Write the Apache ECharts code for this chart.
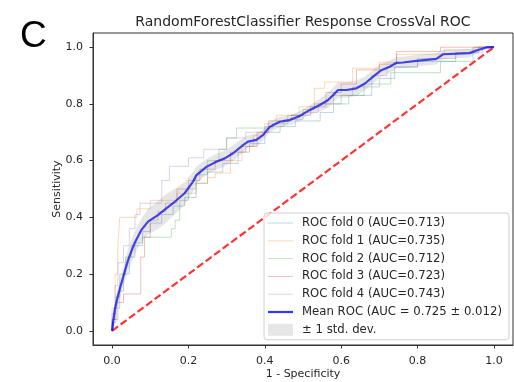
<!DOCTYPE html>
<html><head><meta charset="utf-8">
<script src="https://cdn.jsdelivr.net/npm/echarts@6/dist/echarts.min.js"></script>
<style>html,body{margin:0;padding:0;background:#fff}#c{width:514px;height:382px}</style>
</head><body><div id="c"></div>
<script>
const tickValues = [0, 0.2, 0.4, 0.6, 0.8, 1.0];
const foldNames = ['ROC fold 0 (AUC=0.713)','ROC fold 1 (AUC=0.735)','ROC fold 2 (AUC=0.712)','ROC fold 3 (AUC=0.723)','ROC fold 4 (AUC=0.743)'];
const foldColors = ['rgba(31,119,180,0.3)','rgba(255,127,14,0.3)','rgba(44,160,44,0.3)','rgba(214,39,40,0.3)','rgba(148,103,189,0.3)'];
const fold0 = [[0,0],[0,.03],[.01,.03],[.01,.08],[.02,.08],[.02,.14],[.03,.14],[.03,.2],[.045,.2],[.045,.26],[.06,.26],[.06,.31],[.08,.31],[.08,.35],[.1,.35],[.1,.38],[.13,.38],[.13,.41],[.16,.41],[.16,.44],[.19,.44],[.19,.47],[.22,.47],[.22,.52],[.25,.52],[.25,.56],[.29,.56],[.29,.59],[.33,.59],[.33,.63],[.36,.63],[.36,.66],[.4,.66],[.4,.7],[.44,.7],[.44,.72],[.48,.72],[.48,.74],[.545,.74],[.545,.77],[.58,.77],[.58,.8],[.62,.8],[.62,.83],[.68,.83],[.68,.86],[.7,.86],[.7,.89],[.74,.89],[.74,.93],[.8,.93],[.8,.95],[.9,.95],[.9,.98],[.96,.98],[.96,1],[1,1]];
const fold1 = [[0,0],[0,.08],[.008,.08],[.008,.2],[.015,.2],[.015,.3],[.02,.3],[.02,.4],[.065,.4],[.065,.43],[.1,.43],[.1,.46],[.17,.46],[.17,.485],[.22,.485],[.22,.52],[.25,.52],[.25,.54],[.27,.54],[.27,.556],[.31,.556],[.31,.6],[.34,.6],[.34,.65],[.37,.65],[.37,.69],[.4,.69],[.4,.73],[.43,.73],[.43,.76],[.49,.76],[.49,.79],[.53,.79],[.53,.855],[.557,.855],[.557,.877],[.63,.877],[.63,.926],[.7,.926],[.7,.947],[.745,.947],[.745,.975],[.87,.975],[.87,.99],[.95,.99],[.95,1],[1,1]];
const fold2 = [[0,0],[0,.04],[.01,.04],[.01,.12],[.02,.12],[.02,.2],[.035,.2],[.035,.26],[.05,.26],[.05,.3],[.08,.3],[.08,.33],[.155,.33],[.155,.36],[.165,.36],[.165,.39],[.177,.39],[.177,.46],[.2,.46],[.2,.5],[.22,.5],[.22,.55],[.25,.55],[.25,.6],[.28,.6],[.28,.64],[.3,.64],[.3,.68],[.326,.68],[.326,.715],[.42,.715],[.42,.73],[.46,.73],[.46,.76],[.5,.76],[.5,.78],[.53,.78],[.53,.8],[.6,.8],[.6,.83],[.66,.83],[.66,.87],[.73,.87],[.73,.91],[.86,.91],[.86,.95],[.945,.95],[.945,1],[1,1]];
const fold3 = [[0,0],[0,.04],[.015,.04],[.015,.1],[.03,.1],[.03,.13],[.075,.13],[.075,.26],[.085,.26],[.085,.33],[.1,.33],[.1,.39],[.12,.39],[.12,.42],[.14,.42],[.14,.45],[.17,.45],[.17,.5],[.2,.5],[.2,.53],[.23,.53],[.23,.57],[.27,.57],[.27,.6],[.31,.6],[.31,.63],[.35,.63],[.35,.65],[.38,.65],[.38,.7],[.41,.7],[.41,.74],[.47,.74],[.47,.76],[.52,.76],[.52,.79],[.56,.79],[.56,.84],[.6,.84],[.6,.87],[.64,.87],[.64,.92],[.7,.92],[.7,.94],[.745,.94],[.745,.985],[.86,.985],[.86,1],[1,1]];
const fold4 = [[0,0],[0,.06],[.008,.06],[.008,.16],[.015,.16],[.015,.24],[.03,.24],[.03,.3],[.045,.3],[.045,.36],[.06,.36],[.06,.41],[.073,.41],[.073,.45],[.13,.45],[.13,.53],[.15,.53],[.15,.58],[.2,.58],[.2,.61],[.24,.61],[.24,.64],[.3,.64],[.3,.68],[.35,.68],[.35,.7],[.4,.7],[.4,.72],[.45,.72],[.45,.745],[.5,.745],[.5,.77],[.54,.77],[.54,.8],[.58,.8],[.58,.83],[.63,.83],[.63,.86],[.68,.86],[.68,.9],[.72,.9],[.72,.93],[.8,.93],[.8,.96],[.9,.96],[.9,.98],[.97,.98],[.97,1],[1,1]];
const meanFpr = [0,.007,.016,.029,.042,.059,.077,.094,.12,.142,.164,.19,.212,.221,.247,.273,.295,.317,.343,.356,.378,.395,.413,.439,.465,.491,.517,.544,.565,.579,.592,.614,.64,.662,.683,.705,.727,.745,.762,.797,.849,.867,.936,.958,.98,1.0];
const meanTpr = [0,.074,.127,.19,.25,.31,.356,.385,.408,.432,.455,.485,.526,.549,.578,.596,.608,.626,.655,.667,.673,.69,.719,.737,.743,.757,.778,.796,.813,.831,.849,.849,.855,.872,.895,.919,.931,.945,.946,.952,.959,.975,.979,.99,.999,1.0];
const stdTpr = [0,.02,.03,.035,.04,.04,.04,.045,.05,.05,.045,.04,.035,.03,.028,.028,.028,.028,.025,.022,.022,.02,.02,.018,.017,.017,.017,.022,.027,.027,.027,.027,.027,.025,.025,.022,.022,.02,.02,.02,.02,.017,.015,.01,.005,0];
const chance = [[0,0],[1,1]];
const meanLabel = 'Mean ROC (AUC = 0.725 \u00b1 0.012)';
const stdLabel = '\u00b1 1 std. dev.';

const folds = [fold0, fold1, fold2, fold3, fold4];
const meanData = meanFpr.map((x,i)=>[x, meanTpr[i]]);
const upper = meanFpr.map((x,i)=>[x, Math.min(meanTpr[i]+stdTpr[i],1)]);
const lower = meanFpr.map((x,i)=>[x, Math.max(meanTpr[i]-stdTpr[i],0)]);

const FONT = 'DejaVu Sans';
const TXT = '#262626';
const series = [];
folds.forEach((f,i)=>{
  series.push({name: foldNames[i], type:'line', data:f, showSymbol:false, symbol:'none',
    lineStyle:{color:foldColors[i], width:1}, itemStyle:{color:foldColors[i]}, z:2, animation:false});
});
series.push({name:'chance', type:'line', data:chance, showSymbol:false, symbol:'none',
  lineStyle:{color:'rgba(255,0,0,0.8)', width:2.2, type:[7.4,3.2]}, z:3, animation:false});
series.push({name: meanLabel, type:'line', data:meanData, showSymbol:false, symbol:'none',
  lineStyle:{color:'rgba(0,0,255,0.8)', width:2.2}, itemStyle:{color:'rgba(0,0,255,0.8)'}, z:4, animation:false});
series.push({name: stdLabel, type:'custom', data:[0], z:5, animation:false,
  itemStyle:{color:'rgba(128,128,128,0.2)'},
  renderItem:(params, api)=>{
    const pts = upper.map(p=>api.coord(p)).concat(lower.slice().reverse().map(p=>api.coord(p)));
    return {type:'polygon', shape:{points:pts}, style:{fill:'rgba(128,128,128,0.2)', stroke:null}};
  }});

const axisCommon = {
  type:'value', min:-0.05, max:1.05,
  axisLine:{show:true, onZero:false, lineStyle:{color:'#333', width:1}},
  axisTick:{show:true, inside:false, length:3.5, customValues:tickValues, lineStyle:{color:'#333'}},
  axisLabel:{customValues:tickValues, formatter:v=>v.toFixed(1), color:TXT, fontFamily:FONT, fontSize:11},
  splitLine:{show:false},
  nameLocation:'middle', nameMoveOverlap:false, nameTextStyle:{color:TXT, fontFamily:FONT, fontSize:11}
};

const lineIcon1 = 'path://M0,0H25V1H0Z';
const lineIcon2 = 'path://M0,0H25V2.2H0Z';

const chart = echarts.init(document.getElementById('c'), null, {renderer:'canvas'});
chart.setOption({
  animation:false,
  backgroundColor:'#fff',
  title:[
    {text:'RandomForestClassifier Response CrossVal ROC', left:298, top:10, textAlign:'center',
     textStyle:{color:TXT, fontFamily:FONT, fontSize:14, fontWeight:'normal'}},
    {text:'C', left:15, top:13, textStyle:{color:'#000', fontFamily:'Liberation Sans', fontSize:37, fontWeight:'normal'}}
  ],
  grid:{left:93, right:1, top:33, bottom:37, show:true, borderColor:'#333', borderWidth:1, containLabel:false, outerBoundsMode:'none'},
  xAxis:Object.assign({}, axisCommon, {name:'1 - Specificity', nameGap:24, axisLabel:Object.assign({}, axisCommon.axisLabel, {margin:11})}),
  yAxis:Object.assign({}, axisCommon, {name:'Sensitivity', nameGap:30, axisLabel:Object.assign({}, axisCommon.axisLabel, {margin:10})}),
  legend:{
    orient:'vertical', left:264, top:213, padding:[4,7,4,4], itemGap:5.8, itemWidth:25, itemHeight:12,
    backgroundColor:'rgba(255,255,255,0.8)', borderColor:'#d0d0d0', borderWidth:1, borderRadius:3,
    textStyle:{color:TXT, fontFamily:FONT, fontSize:11.7, padding:[0,0,0,4]}, selectedMode:false,
    data:foldNames.map((n,i)=>({name:n, icon:lineIcon1, itemStyle:{color:foldColors[i]}})).concat([
      {name:meanLabel, icon:lineIcon2, itemStyle:{color:'rgba(0,0,255,0.8)'}},
      {name:stdLabel, icon:'rect', itemStyle:{color:'rgba(128,128,128,0.2)'}}])
  },
  series:series
});
</script></body></html>
